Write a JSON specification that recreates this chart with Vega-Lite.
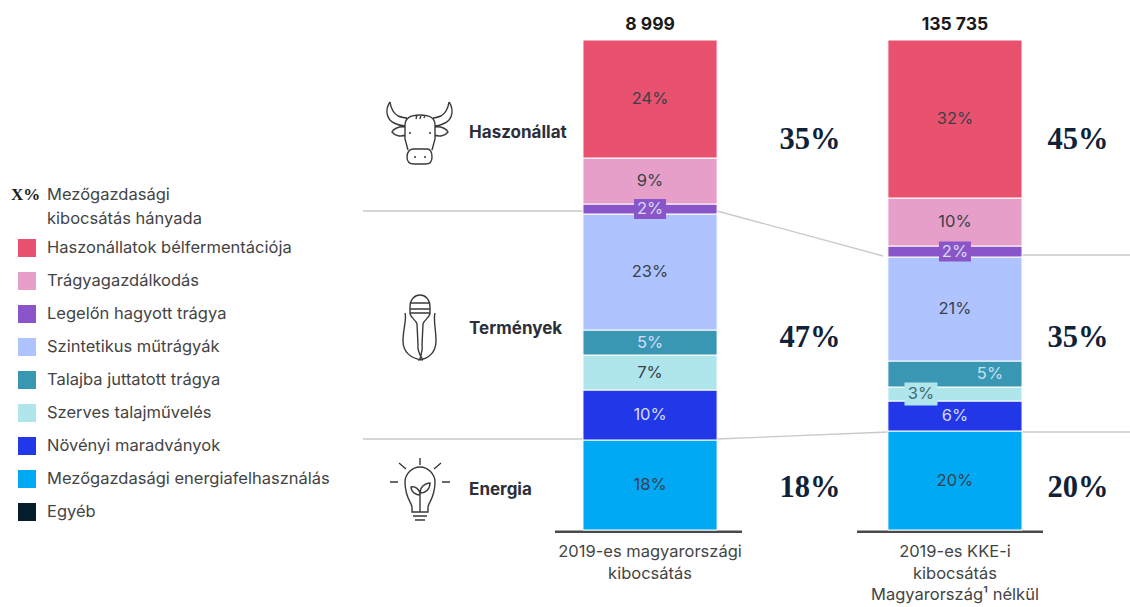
{
"$schema":"https://vega.github.io/schema/vega-lite/v6.json",
"width":1130,"height":607,"padding":0,"autosize":{"type":"fit","contains":"padding"},
"background":"white",
"config":{"view":{"stroke":null},"text":{"font":"Inter"}},
"datasets":{
"seg":[
{"bar":"bar1","cat":"Mezőgazdasági energiafelhasználás","value":18,"label":"18%","rank":1},
{"bar":"bar1","cat":"Növényi maradványok","value":10,"label":"10%","rank":2},
{"bar":"bar1","cat":"Szerves talajművelés","value":7,"label":"7%","rank":3},
{"bar":"bar1","cat":"Talajba juttatott trágya","value":5,"label":"5%","rank":4},
{"bar":"bar1","cat":"Szintetikus műtrágyák","value":23.2,"label":"23%","rank":5},
{"bar":"bar1","cat":"Legelőn hagyott trágya","value":2,"label":"2%","rank":6},
{"bar":"bar1","cat":"Trágyagazdálkodás","value":9.2,"label":"9%","rank":7},
{"bar":"bar1","cat":"Haszonállatok bélfermentációja","value":23.6,"label":"24%","rank":8},
{"bar":"bar2","cat":"Mezőgazdasági energiafelhasználás","value":19.8,"label":"20%","rank":1},
{"bar":"bar2","cat":"Növényi maradványok","value":6,"label":"6%","rank":2},
{"bar":"bar2","cat":"Szerves talajművelés","value":2.8,"label":"3%","rank":3},
{"bar":"bar2","cat":"Talajba juttatott trágya","value":5.2,"label":"5%","rank":4},
{"bar":"bar2","cat":"Szintetikus műtrágyák","value":20.8,"label":"21%","rank":5},
{"bar":"bar2","cat":"Legelőn hagyott trágya","value":2.2,"label":"2%","rank":6},
{"bar":"bar2","cat":"Trágyagazdálkodás","value":9.6,"label":"10%","rank":7},
{"bar":"bar2","cat":"Haszonállatok bélfermentációja","value":31.6,"label":"32%","rank":8}
],
"links":[
{"line":"a","pos":363,"level":63.8},{"line":"a","pos":583,"level":63.8},
{"line":"b","pos":717,"level":63.8},{"line":"b","pos":883,"level":54.8},
{"line":"c","pos":1022,"level":55},{"line":"c","pos":1130,"level":55},
{"line":"d","pos":363,"level":18.2},{"line":"d","pos":583,"level":18.2},
{"line":"e","pos":717,"level":18.2},{"line":"e","pos":888,"level":19.6},
{"line":"f","pos":1022,"level":19.6},{"line":"f","pos":1130,"level":19.6}
],
"bases":[
{"line":"a","pos":555,"level":-0.34},{"line":"a","pos":742,"level":-0.34},
{"line":"b","pos":857,"level":-0.34},{"line":"b","pos":1043,"level":-0.34}
],
"bars":[
{"bar":"bar1","total":"8 999","name":"2019-es magyarországi\nkibocsátás"},
{"bar":"bar2","total":"135 735","name":"2019-es KKE-i\nkibocsátás\nMagyarország¹ nélkül"}
],
"groups":[
{"group":"Haszonállat","level":79.4},
{"group":"Termények","level":40.2},
{"group":"Energia","level":8}
],
"shares":[
{"col":"s1","share":"35%","level":78},{"col":"s1","share":"47%","level":38.4},{"col":"s1","share":"18%","level":8.4},
{"col":"s2","share":"45%","level":78},{"col":"s2","share":"35%","level":38.4},{"col":"s2","share":"20%","level":8.4}
],
"head":[
{"note":"Mezőgazdasági","pos":47,"level":67},
{"note":"kibocsátás hányada","pos":47,"level":62.2}
],
"headMark":[{"note":"X%","pos":11,"level":67}],
"icons":[
{"icon":"cow","pos":420,"level":79.4},
{"icon":"corn","pos":420,"level":40.6},
{"icon":"bulb","pos":420,"level":8}
]
},
"resolve":{"scale":{"x":"independent"}},
"layer":[
{"data":{"name":"links"},"mark":{"type":"line","color":"#c9c9c9","strokeWidth":1.3},
 "encoding":{"x":{"field":"pos","type":"quantitative","scale":{"domain":[0,1130],"range":[0,1130]},"axis":null},
 "y":{"field":"level","type":"quantitative","scale":{"domain":[-15.4,106],"range":[607,0],"nice":false,"zero":false},"axis":null},
 "detail":{"field":"line"}}},
{"data":{"name":"bases"},"mark":{"type":"line","color":"#4a4a4a","strokeWidth":2.4},
 "encoding":{"x":{"field":"pos","type":"quantitative","scale":{"domain":[0,1130],"range":[0,1130]},"axis":null},
 "y":{"field":"level","type":"quantitative","axis":null},
 "detail":{"field":"line"}}},
{"data":{"name":"seg"},
 "transform":[{"stack":"value","groupby":["bar"],"sort":[{"field":"rank"}],"as":["y0","y1"]}],
 "mark":{"type":"bar","stroke":"#ffffff","strokeWidth":1},
 "encoding":{
  "x":{"field":"bar","type":"nominal","scale":{"type":"band","domain":["groups","bar1","s1","bar2","s2"],"range":[430.5,1174.5],"paddingInner":0.12,"paddingOuter":0},"axis":null},
  "y":{"field":"y0","type":"quantitative","axis":null},"y2":{"field":"y1"},
  "color":{"field":"cat","type":"nominal","scale":{
   "domain":["Haszonállatok bélfermentációja","Trágyagazdálkodás","Legelőn hagyott trágya","Szintetikus műtrágyák","Talajba juttatott trágya","Szerves talajművelés","Növényi maradványok","Mezőgazdasági energiafelhasználás","Egyéb"],
   "range":["#E8526F","#E69FC8","#8A55C8","#AFC3FF","#3A97B4","#AEE6EC","#2238E8","#00A9F4","#051C2C"]},
   "legend":{"title":null,"orient":"none","legendX":18,"legendY":239,"symbolType":"square","symbolSize":324,"symbolStrokeWidth":0,"symbolOpacity":1,"rowPadding":15,"labelFont":"Inter","labelFontSize":16.5,"labelColor":"#444444","labelOffset":11,"labelLimit":330}}
 }},
{"data":{"name":"seg"},
 "transform":[{"stack":"value","groupby":["bar"],"sort":[{"field":"rank"}],"as":["y0","y1"]},{"fold":["y0","y1"],"as":["edge","edgeLevel"]},{"filter":"datum.label=='2%'"}],
 "mark":{"type":"point","shape":"M-1,-0.62H1V0.62H-1Z","filled":true,"size":1024,"color":"#8A55C8","opacity":1,"strokeWidth":0},
 "encoding":{
  "x":{"field":"bar","type":"nominal","scale":{"type":"band","domain":["groups","bar1","s1","bar2","s2"],"range":[430.5,1174.5],"paddingInner":0.12,"paddingOuter":0},"axis":null},
  "y":{"aggregate":"mean","field":"edgeLevel","type":"quantitative","axis":null}}},
{"data":{"name":"seg"},
 "transform":[{"stack":"value","groupby":["bar"],"sort":[{"field":"rank"}],"as":["y0","y1"]},{"fold":["y0","y1"],"as":["edge","edgeLevel"]},{"filter":"datum.bar=='bar2' && datum.label=='3%'"}],
 "mark":{"type":"point","shape":"M-1,-0.7H1V0.7H-1Z","filled":true,"size":1089,"color":"#AEE6EC","opacity":1,"strokeWidth":0,"xOffset":-34},
 "encoding":{
  "x":{"field":"bar","type":"nominal","scale":{"type":"band","domain":["groups","bar1","s1","bar2","s2"],"range":[430.5,1174.5],"paddingInner":0.12,"paddingOuter":0},"axis":null},
  "y":{"aggregate":"mean","field":"edgeLevel","type":"quantitative","axis":null}}},
{"data":{"name":"seg"},
 "transform":[{"stack":"value","groupby":["bar"],"sort":[{"field":"rank"}],"as":["y0","y1"]},{"fold":["y0","y1"],"as":["edge","edgeLevel"]},
  {"filter":{"field":"cat","oneOf":["Haszonállatok bélfermentációja","Trágyagazdálkodás","Szintetikus műtrágyák","Szerves talajművelés","Mezőgazdasági energiafelhasználás"]}},{"filter":"!(datum.bar=='bar2' && datum.label=='3%')"}],
 "mark":{"type":"text","fontSize":16.5,"color":"#3a3f4a","baseline":"middle"},
 "encoding":{
  "x":{"field":"bar","type":"nominal","scale":{"type":"band","domain":["groups","bar1","s1","bar2","s2"],"range":[430.5,1174.5],"paddingInner":0.12,"paddingOuter":0},"axis":null},
  "y":{"aggregate":"mean","field":"edgeLevel","type":"quantitative","axis":null},
  "text":{"field":"label"},"detail":{"field":"cat"}}},
{"data":{"name":"seg"},
 "transform":[{"stack":"value","groupby":["bar"],"sort":[{"field":"rank"}],"as":["y0","y1"]},{"fold":["y0","y1"],"as":["edge","edgeLevel"]},
  {"filter":"datum.bar=='bar2' && datum.label=='3%'"}],
 "mark":{"type":"text","fontSize":16.5,"color":"#3f6b72","baseline":"middle","dx":-34},
 "encoding":{
  "x":{"field":"bar","type":"nominal","scale":{"type":"band","domain":["groups","bar1","s1","bar2","s2"],"range":[430.5,1174.5],"paddingInner":0.12,"paddingOuter":0},"axis":null},
  "y":{"aggregate":"mean","field":"edgeLevel","type":"quantitative","axis":null},
  "text":{"field":"label"},"detail":{"field":"cat"}}},
{"data":{"name":"seg"},
 "transform":[{"stack":"value","groupby":["bar"],"sort":[{"field":"rank"}],"as":["y0","y1"]},{"fold":["y0","y1"],"as":["edge","edgeLevel"]},
  {"filter":{"field":"cat","oneOf":["Legelőn hagyott trágya","Talajba juttatott trágya","Növényi maradványok"]}},{"filter":"!(datum.bar=='bar2' && datum.cat=='Talajba juttatott trágya')"}],
 "mark":{"type":"text","fontSize":16.5,"color":"#d5dcf5","baseline":"middle"},
 "encoding":{
  "x":{"field":"bar","type":"nominal","scale":{"type":"band","domain":["groups","bar1","s1","bar2","s2"],"range":[430.5,1174.5],"paddingInner":0.12,"paddingOuter":0},"axis":null},
  "y":{"aggregate":"mean","field":"edgeLevel","type":"quantitative","axis":null},
  "text":{"field":"label"},"detail":{"field":"cat"}}},
{"data":{"name":"seg"},
 "transform":[{"stack":"value","groupby":["bar"],"sort":[{"field":"rank"}],"as":["y0","y1"]},{"fold":["y0","y1"],"as":["edge","edgeLevel"]},
  {"filter":"datum.bar=='bar2' && datum.cat=='Talajba juttatott trágya'"}],
 "mark":{"type":"text","fontSize":16.5,"color":"#c3e0ea","baseline":"middle","dx":35},
 "encoding":{
  "x":{"field":"bar","type":"nominal","scale":{"type":"band","domain":["groups","bar1","s1","bar2","s2"],"range":[430.5,1174.5],"paddingInner":0.12,"paddingOuter":0},"axis":null},
  "y":{"aggregate":"mean","field":"edgeLevel","type":"quantitative","axis":null},
  "text":{"field":"label"},"detail":{"field":"cat"}}},
{"data":{"name":"bars"},
 "mark":{"type":"text","fontSize":17.5,"fontWeight":"bold","color":"#1a1a1a","baseline":"middle"},
 "encoding":{
  "x":{"field":"bar","type":"nominal","scale":{"type":"band","domain":["groups","bar1","s1","bar2","s2"],"range":[430.5,1174.5],"paddingInner":0.12,"paddingOuter":0},"axis":null},
  "y":{"datum":101,"type":"quantitative","axis":null},
  "text":{"field":"total"}}},
{"data":{"name":"bars"},
 "mark":{"type":"text","fontSize":16.5,"color":"#444444","baseline":"top","lineBreak":"\n","lineHeight":21.5},
 "encoding":{
  "x":{"field":"bar","type":"nominal","scale":{"type":"band","domain":["groups","bar1","s1","bar2","s2"],"range":[430.5,1174.5],"paddingInner":0.12,"paddingOuter":0},"axis":null},
  "y":{"datum":-2.8,"type":"quantitative","axis":null},
  "text":{"field":"name"}}},
{"data":{"name":"groups"},
 "mark":{"type":"text","fontSize":17,"fontWeight":"bold","color":"#2b2f3a","align":"left","baseline":"middle","dx":-28.5},
 "encoding":{
  "x":{"datum":"groups","type":"nominal","scale":{"type":"band","domain":["groups","bar1","s1","bar2","s2"],"range":[430.5,1174.5],"paddingInner":0.12,"paddingOuter":0},"axis":null},
  "y":{"field":"level","type":"quantitative","axis":null},
  "text":{"field":"group"}}},
{"data":{"name":"shares"},"transform":[{"filter":"datum.col=='s1'"}],
 "mark":{"type":"text","font":"Liberation Serif","fontSize":30.5,"fontWeight":"bold","color":"#0f2238","baseline":"middle","dx":7.5},
 "encoding":{
  "x":{"field":"col","type":"nominal","scale":{"type":"band","domain":["groups","bar1","s1","bar2","s2"],"range":[430.5,1174.5],"paddingInner":0.12,"paddingOuter":0},"axis":null},
  "y":{"field":"level","type":"quantitative","axis":null},
  "text":{"field":"share"}}},
{"data":{"name":"shares"},"transform":[{"filter":"datum.col=='s2'"}],
 "mark":{"type":"text","font":"Liberation Serif","fontSize":30.5,"fontWeight":"bold","color":"#0f2238","baseline":"middle","dx":-29.5},
 "encoding":{
  "x":{"field":"col","type":"nominal","scale":{"type":"band","domain":["groups","bar1","s1","bar2","s2"],"range":[430.5,1174.5],"paddingInner":0.12,"paddingOuter":0},"axis":null},
  "y":{"field":"level","type":"quantitative","axis":null},
  "text":{"field":"share"}}},
{"data":{"name":"head"},
 "mark":{"type":"text","fontSize":16.5,"color":"#444444","align":"left","baseline":"middle"},
 "encoding":{
  "x":{"field":"pos","type":"quantitative","scale":{"domain":[0,1130],"range":[0,1130]},"axis":null},
  "y":{"field":"level","type":"quantitative","axis":null},
  "text":{"field":"note"}}},
{"data":{"name":"headMark"},
 "mark":{"type":"text","font":"Liberation Serif","fontSize":17,"fontWeight":"bold","color":"#1a1a1a","align":"left","baseline":"middle"},
 "encoding":{
  "x":{"field":"pos","type":"quantitative","scale":{"domain":[0,1130],"range":[0,1130]},"axis":null},
  "y":{"field":"level","type":"quantitative","axis":null},
  "text":{"field":"note"}}},
{"data":{"name":"icons"},"transform":[{"filter":"datum.icon=='cow'"}],
 "mark":{"type":"point","size":4,"filled":false,"color":"#3a3a3a","strokeWidth":1.4,"opacity":1,
  "shape":"M-15,-8C-15,-16 -8,-18 0,-18C8,-18 15,-16 15,-8L15,6L12,17M-15,-8L-15,6L-12,17M-7,16H7C11,16 12,20 12,24C12,29 9,31 6,31H-6C-10,31 -13,29 -13,24C-13,20 -11,16 -7,16ZM-30,-31C-35,-24 -34,-14 -26,-10C-22,-8 -18,-7 -15,-7M-30,-31C-29,-24 -27,-20 -22,-17C-19,-16 -15,-15 -13,-15M29,-31C34,-24 33,-14 25,-10C21,-8 18,-7 15,-7M29,-31C28,-24 26,-20 21,-17C18,-16 15,-15 13,-15M-15,-6C-21,-7 -27,-4 -28,-1C-25,3 -19,4 -15,2M15,-6C21,-7 27,-4 28,-1C25,3 19,4 15,2M-3,-18L-4,-14M1,-18L0,-14M5,-18L4,-15M-11,0H-9M9,0H11M-6,24H-4M4,24H6"},
 "encoding":{
  "x":{"field":"pos","type":"quantitative","scale":{"domain":[0,1130],"range":[0,1130]},"axis":null},
  "y":{"field":"level","type":"quantitative","axis":null}}},
{"data":{"name":"icons"},"transform":[{"filter":"datum.icon=='corn'"}],
 "mark":{"type":"point","size":4,"filled":false,"color":"#3a3a3a","strokeWidth":1.4,"opacity":1,
  "shape":"M-10,-13V-20C-10,-28 -5,-32 0,-32C5,-32 10,-28 10,-20V-13M-9,-24H9M-10,-18H10M-10,-14H10M-15,-14C-13,-8 -17,2 -17,14C-17,24 -10,32 3,33M15,-14C13,-8 16,2 16,14C16,24 10,32 -2,33M-10,-13C-8,-8 -4,-7 -3,-3M10,-13C8,-8 4,-7 3,-3M-3,-3L-2,18C-3,24 0,28 3,33M3,-3L2,18C3,22 1,28 0,32"},
 "encoding":{
  "x":{"field":"pos","type":"quantitative","scale":{"domain":[0,1130],"range":[0,1130]},"axis":null},
  "y":{"field":"level","type":"quantitative","axis":null}}},
{"data":{"name":"icons"},"transform":[{"filter":"datum.icon=='bulb'"}],
 "mark":{"type":"point","size":4,"filled":false,"color":"#3a3a3a","strokeWidth":1.4,"opacity":1,
  "shape":"M-8,22V17C-8,13 -15,8 -15,-8C-15,-16 -8,-23 0,-23C8,-23 15,-16 15,-8C15,8 8,13 8,17V22ZM-7,26H7M-5,30H5M0,-32V-25M-21,-27L-14,-21M21,-27L14,-21M-30,-8H-22M30,-8H22M0,22V3M0,5C-4,5 -9,2 -9,-3C-5,-4 0,-1 0,5M0,3C0,-3 5,-7 10,-7C10,-1 6,3 0,3"},
 "encoding":{
  "x":{"field":"pos","type":"quantitative","scale":{"domain":[0,1130],"range":[0,1130]},"axis":null},
  "y":{"field":"level","type":"quantitative","axis":null}}}
]
}
